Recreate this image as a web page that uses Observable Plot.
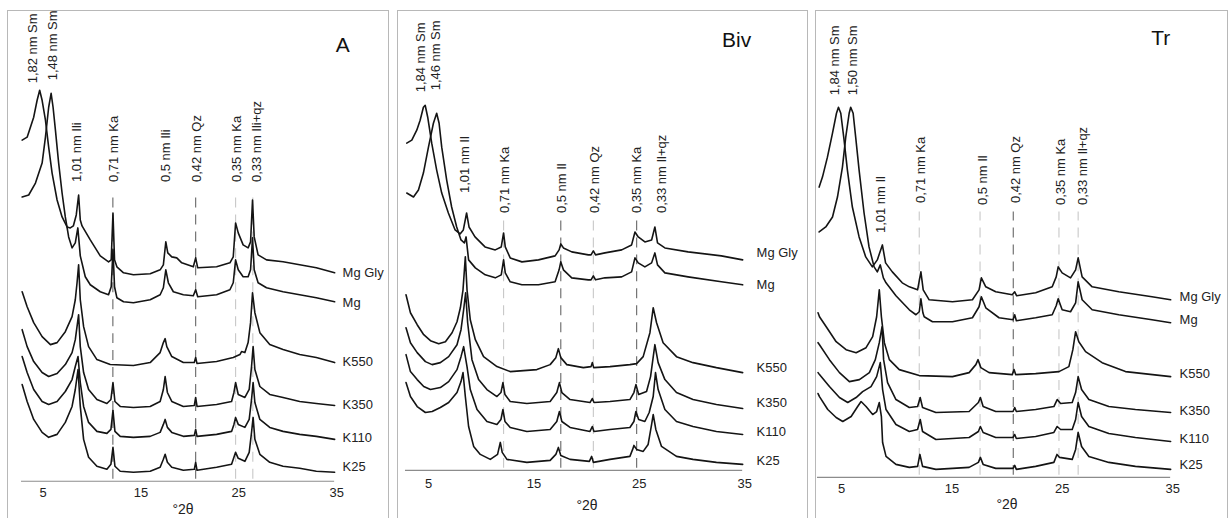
<!DOCTYPE html>
<html><head><meta charset="utf-8">
<script src="https://cdn.jsdelivr.net/npm/d3@7"></script>
<script src="https://cdn.jsdelivr.net/npm/@observablehq/plot@0.6"></script>
<style>
html,body{margin:0;padding:0;background:#fff;width:1229px;height:518px;overflow:hidden;}
.panel{position:absolute;top:10px;height:520px;border:1px solid #b8b8b8;border-bottom:none;box-sizing:border-box;}
.panel svg{position:absolute;left:-1px;top:-1px;}
</style></head><body>
<div id="pA" class="panel" style="left:7px;width:382px"></div>
<div id="pB" class="panel" style="left:397px;width:411px"></div>
<div id="pT" class="panel" style="left:815px;width:413px"></div>
<script>
// ---------- shared ----------
const traceNames = ["Mg Gly", "Mg", "K550", "K350", "K110", "K25"];
const xTicks = [5, 15, 25, 35];
const peakTextA = ["1,82 nm Sm", "1,48 nm Sm", "1,01 nm Ili", "0,71 nm Ka", "0,5 nm Ili", "0,42 nm Qz", "0,35 nm Ka", "0,33 nm Ili+qz"];
const peakTextB = ["1,84 nm Sm", "1,46 nm Sm", "1,01 nm Il", "0,71 nm Ka", "0,5 nm Il", "0,42 nm Qz", "0,35 nm Ka", "0,33 nm Il+qz"];
const peakTextT = ["1,84 nm Sm", "1,50 nm Sm", "1,01 nm Il", "0,71 nm Ka", "0,5 nm Il", "0,42 nm Qz", "0,35 nm Ka", "0,33 nm Il+qz"];

// ---------- Panel A (°2θ, intensity a.u. incl. stacking offset) ----------
const A_MgGly = [[3.07,342],[3.58,345],[4.25,365],[4.6,382],[4.86,392],[5.11,382],[5.45,362],[5.78,335],[6.13,309],[6.64,282],[7.15,265],[7.66,255],[7.99,254],[8.3,256],[8.6,267],[8.84,287],[9.01,262],[9.19,256],[10.03,242],[11.05,226],[11.9,220],[12.17,222],[12.35,269],[12.51,222],[12.75,215],[13.43,209],[14.44,207],[16.15,208],[17.17,212],[17.5,217],[17.75,240],[17.95,229],[18.36,225],[18.87,224],[19.38,219],[20.56,215],[20.8,224],[21.01,214],[22.94,215],[24.3,219],[24.64,225],[24.88,259],[25.15,249],[25.65,237],[26.16,234],[26.41,240],[26.61,282],[26.78,245],[27.18,227],[28.04,222],[29.73,220],[31.43,217],[33.13,214],[35,209]];
const A_Mg = [[3.07,285],[3.74,287],[4.43,299],[5.11,319],[5.45,345],[5.78,375],[6.03,389],[6.23,375],[6.47,352],[6.8,319],[7.15,289],[7.48,265],[7.82,245],[8.17,234],[8.5,239],[8.76,254],[9.01,226],[9.52,205],[10.03,197],[11.05,190],[11.9,187],[12.17,195],[12.35,232],[12.51,195],[12.75,184],[13.43,180],[14.44,179],[16.15,182],[17.17,187],[17.5,194],[17.75,212],[18.01,199],[18.52,190],[19.54,187],[20.56,186],[20.8,192],[21.01,185],[22.94,187],[24.3,192],[24.64,199],[24.88,222],[25.15,212],[25.65,205],[26.16,205],[26.41,212],[26.61,244],[26.78,212],[27.18,199],[28.04,194],[29.73,190],[31.43,187],[33.13,184],[35,180]];
const A_K550 = [[3.07,190],[3.58,175],[4.25,159],[5.11,145],[5.96,137],[6.64,139],[7.48,150],[8.17,165],[8.5,182],[8.68,199],[8.84,217],[9.01,182],[9.35,155],[9.86,135],[10.71,122],[12.07,117],[14.44,116],[16.15,119],[17.17,129],[17.5,139],[17.68,143],[17.85,135],[18.36,125],[19.54,119],[20.66,119],[20.8,124],[20.94,118],[22.94,120],[24.64,124],[25.32,127],[25.49,130],[25.83,129],[26.16,139],[26.41,159],[26.61,189],[26.85,169],[27.36,149],[28.37,137],[29.73,132],[31.43,127],[33.13,124],[35,119]];
const A_K350 = [[3.07,152],[3.58,135],[4.25,120],[5.11,109],[5.78,105],[6.64,108],[7.48,117],[8.17,129],[8.5,142],[8.84,167],[9.01,135],[9.35,109],[9.86,92],[10.71,82],[11.73,78],[12.14,82],[12.35,99],[12.55,80],[13.09,75],[14.44,74],[16.15,75],[17.17,80],[17.5,92],[17.68,105],[17.91,89],[18.36,80],[19.54,75],[20.66,76],[20.8,84],[20.94,75],[22.94,77],[24.47,80],[24.71,89],[24.88,99],[25.15,87],[25.83,84],[26.27,92],[26.51,115],[26.67,135],[26.85,112],[27.36,95],[28.37,87],[29.73,84],[31.43,80],[33.13,78],[35,76]];
const A_K110 = [[3.07,125],[3.58,109],[4.25,92],[5.11,80],[5.78,77],[6.64,80],[7.48,90],[8.17,102],[8.5,115],[8.78,125],[9.01,99],[9.35,75],[9.86,59],[10.71,50],[11.73,48],[12.14,52],[12.35,71],[12.55,50],[13.09,45],[14.44,44],[16.15,45],[17.17,49],[17.5,57],[17.68,62],[17.91,54],[18.36,49],[19.54,45],[20.66,46],[20.8,52],[20.94,45],[22.94,47],[24.47,50],[24.71,57],[24.88,64],[25.15,57],[25.83,54],[26.27,62],[26.51,82],[26.67,99],[26.85,79],[27.36,62],[28.37,54],[29.73,50],[31.43,47],[33.13,45],[35,42]];
const A_K25 = [[3.07,97],[3.58,80],[4.25,62],[5.11,49],[5.78,44],[6.64,47],[7.48,59],[8.17,75],[8.5,92],[8.78,112],[9.01,75],[9.35,42],[9.86,24],[10.71,15],[11.73,12],[12.14,17],[12.35,34],[12.55,15],[13.09,10],[14.44,9],[16.15,10],[17.17,14],[17.5,22],[17.68,27],[17.91,19],[18.36,14],[19.54,11],[20.66,12],[20.8,19],[20.94,11],[22.94,14],[24.47,17],[24.71,24],[24.88,29],[25.15,23],[25.83,20],[26.27,29],[26.51,49],[26.67,64],[26.85,42],[27.36,27],[28.37,19],[29.73,15],[31.43,13],[33.13,10],[35,9]];
const A_traceLabelY = [209, 179, 120, 77, 44, 14];
const A_peakLabelX = [4.19, 6.23, 8.68, 12.41, 17.78, 20.9, 24.98, 27.02];
const A_peakLabelBase = [399, 402, 300, 300, 300, 300, 300, 300];
const A_guideX = [12.34, 20.8, 24.88, 26.64];
const A_guideTone = ["dark", "dark", "light", "light"];
const A_guideTop = 285;

// ---------- Panel Biv ----------
const B_MgGly = [[3.12,328],[3.6,331],[4.07,341],[4.39,351],[4.7,364],[4.87,366],[5.11,354],[5.49,328],[5.96,301],[6.44,278],[7.07,258],[7.71,241],[8.18,237],[8.49,241],[8.8,258],[9.03,244],[9.6,234],[10.55,224],[11.52,221],[12.09,224],[12.31,238],[12.47,224],[12.94,213],[14.05,209],[15.62,211],[17.2,215],[17.58,221],[17.74,227],[17.99,223],[18.78,219],[20.35,216],[20.61,216],[20.83,220],[21.04,216],[21.93,218],[23.52,221],[24.46,226],[24.78,239],[25.09,234],[25.72,229],[26.36,231],[26.67,244],[26.92,228],[27.62,223],[29.82,219],[32.98,215],[35,211]];
const B_Mg = [[3.12,278],[3.76,274],[4.23,281],[4.7,298],[5.18,324],[5.65,348],[5.96,358],[6.19,348],[6.44,324],[6.91,291],[7.38,264],[7.86,244],[8.27,231],[8.59,228],[8.75,234],[8.99,211],[9.63,203],[10.57,196],[11.52,193],[12.09,196],[12.31,211],[12.47,198],[12.94,189],[14.05,186],[15.62,186],[17.2,189],[17.58,201],[17.74,209],[17.99,201],[18.78,193],[20.35,191],[20.61,191],[20.83,195],[21.04,191],[21.93,193],[23.52,194],[24.46,199],[24.78,213],[25.09,208],[25.72,204],[26.36,208],[26.67,218],[26.92,206],[27.62,198],[29.82,194],[32.98,189],[35,186]];
const B_K550 = [[3.05,176],[3.47,158],[4.11,146],[4.73,136],[5.37,130],[6.15,127],[6.79,129],[7.42,138],[7.89,149],[8.21,163],[8.46,181],[8.68,214],[8.84,181],[9.15,151],[9.63,131],[10.41,114],[11.68,104],[12.94,99],[15.47,101],[16.73,106],[17.27,113],[17.51,122],[17.74,113],[18.31,106],[19.88,103],[20.61,104],[20.73,108],[20.86,103],[22.41,104],[24.3,106],[24.94,107],[25.56,114],[26.2,138],[26.51,163],[26.83,148],[27.45,128],[28.72,114],[30.29,108],[32.51,103],[35,98]];
const B_K350 = [[3.05,143],[3.47,128],[4.11,118],[4.89,109],[5.53,106],[6.31,108],[7.1,114],[7.89,126],[8.27,141],[8.52,161],[8.71,178],[8.9,148],[9.31,111],[9.94,91],[10.73,81],[11.68,74],[12.06,78],[12.25,88],[12.44,76],[12.94,69],[14.52,67],[16.73,69],[17.36,78],[17.61,88],[17.84,78],[18.62,71],[20.51,68],[20.73,72],[20.89,68],[22.41,69],[24.3,71],[24.68,78],[24.87,86],[25.13,76],[25.88,79],[26.26,94],[26.67,126],[26.98,108],[27.62,91],[28.72,78],[30.29,71],[32.51,66],[35,62]];
const B_K110 = [[3.05,116],[3.47,99],[4.11,91],[4.73,84],[5.37,81],[6.31,83],[7.1,89],[7.89,101],[8.27,114],[8.52,124],[8.84,104],[9.15,81],[9.79,61],[10.73,49],[11.68,46],[12.06,51],[12.25,61],[12.44,49],[12.94,43],[14.52,39],[16.73,41],[17.36,49],[17.61,59],[17.84,49],[18.62,43],[20.51,39],[20.73,44],[20.89,39],[22.41,41],[24.3,43],[24.68,49],[24.87,59],[25.13,51],[25.72,49],[26.13,58],[26.51,74],[26.73,98],[26.98,81],[27.62,61],[28.72,49],[30.29,44],[32.51,39],[35,36]];
const B_K25 = [[3.05,88],[3.47,74],[4.11,64],[4.89,58],[5.53,59],[6.31,63],[7.1,68],[7.89,78],[8.27,89],[8.46,98],[8.68,74],[8.99,44],[9.47,24],[10.1,16],[11.05,11],[11.74,16],[12.0,28],[12.18,18],[12.63,11],[14.52,8],[16.73,10],[17.27,16],[17.51,23],[17.74,15],[18.62,11],[20.45,9],[20.67,14],[20.83,8],[22.41,11],[24.3,14],[24.56,21],[24.68,25],[24.94,21],[25.56,19],[26.03,26],[26.36,46],[26.51,56],[26.76,41],[27.3,24],[28.72,14],[30.29,11],[32.51,8],[35,6]];
const B_traceLabelY = [218, 186, 103, 68, 39, 10];
const B_peakLabelX = [4.42, 5.84, 8.68, 12.47, 17.84, 20.99, 24.94, 27.3];
const B_peakLabelBase = [379, 381, 278, 258, 258, 258, 258, 258];
const B_guideX = [12.31, 17.74, 20.83, 24.94];
const B_guideTone = ["light", "dark", "light", "dark"];
const B_guideTop = 253;

// ---------- Panel Tr ----------
const T_MgGly = [[3.15,291],[3.45,301],[3.9,321],[4.36,345],[4.72,365],[4.9,371],[5.11,365],[5.41,338],[5.71,308],[6.16,271],[6.77,241],[7.37,221],[7.97,211],[8.42,218],[8.88,233],[9.17,215],[9.78,206],[10.68,195],[11.32,191],[12.07,188],[12.37,206],[12.58,188],[13.12,178],[15.23,176],[17.04,178],[17.64,188],[17.85,200],[18.25,191],[19.15,186],[20.65,183],[20.87,186],[21.05,182],[22.77,185],[24.27,191],[24.63,201],[24.81,211],[25.17,205],[25.93,200],[26.39,208],[26.62,220],[26.98,201],[27.89,191],[30.3,186],[33.31,181],[35,178]];
const T_Mg = [[3.15,246],[3.75,251],[4.36,261],[4.81,281],[5.26,311],[5.56,341],[5.87,365],[6.01,371],[6.23,365],[6.46,341],[6.77,308],[7.22,265],[7.67,231],[8.13,211],[8.42,206],[8.69,213],[8.97,200],[9.21,195],[10.11,182],[11.32,168],[11.92,163],[12.22,166],[12.37,179],[12.55,165],[12.67,161],[13.42,156],[15.23,156],[17.04,160],[17.64,171],[17.85,181],[18.25,170],[19.45,160],[20.72,158],[20.87,163],[21.02,157],[22.77,160],[24.27,163],[24.63,172],[24.81,179],[25.17,168],[25.93,166],[26.39,175],[26.62,196],[26.98,178],[27.89,168],[30.3,163],[33.31,158],[35,155]];
const T_K550 = [[3.05,165],[3.18,161],[3.79,151],[4.69,136],[5.59,128],[6.5,125],[7.4,130],[8.0,141],[8.36,161],[8.6,188],[8.79,161],[9.06,135],[9.51,118],[10.41,108],[12.22,102],[15.23,101],[16.74,105],[17.35,113],[17.55,118],[17.8,110],[18.55,105],[20.65,103],[20.81,108],[20.96,103],[22.77,104],[24.88,106],[25.78,111],[26.14,128],[26.39,146],[26.68,136],[27.29,126],[28.79,115],[30.91,106],[35,101]];
const T_K350 = [[3.05,135],[3.18,133],[4.08,118],[4.99,105],[5.89,96],[6.8,98],[7.7,105],[8.24,118],[8.6,135],[8.85,151],[8.99,118],[9.35,95],[10.11,78],[11.32,70],[12.07,71],[12.31,80],[12.52,70],[13.73,65],[16.74,66],[17.58,75],[17.76,80],[18.01,71],[19.15,66],[20.72,66],[20.87,70],[21.02,66],[22.77,68],[24.42,71],[24.72,78],[25.03,74],[26.08,75],[26.39,85],[26.62,101],[26.93,88],[27.59,78],[29.4,71],[31.81,68],[35,65]];
const T_K110 = [[3.05,105],[3.18,103],[4.08,91],[4.99,80],[5.74,75],[6.5,80],[7.09,86],[7.85,91],[8.36,101],[8.69,115],[8.9,88],[9.21,68],[10.11,53],[11.32,46],[12.07,48],[12.31,58],[12.52,46],[13.73,38],[16.74,40],[17.58,46],[17.76,51],[18.01,45],[19.15,40],[20.72,40],[20.87,43],[21.02,39],[22.77,41],[24.42,45],[24.72,51],[25.03,48],[26.08,48],[26.39,58],[26.62,75],[26.93,61],[27.59,51],[29.4,44],[31.81,40],[35,36]];
const T_K25 = [[3.05,84],[3.18,81],[3.93,68],[4.69,60],[5.29,56],[6.05,61],[6.64,71],[6.95,76],[7.4,71],[8.0,63],[8.36,66],[8.6,75],[8.79,61],[8.9,35],[9.21,21],[10.11,13],[11.32,10],[12.07,11],[12.28,23],[12.52,11],[13.73,8],[16.74,10],[17.58,15],[17.76,20],[18.01,13],[19.15,9],[20.72,9],[20.87,12],[21.02,8],[22.77,11],[24.42,15],[24.7,23],[24.94,20],[26.08,18],[26.39,28],[26.62,45],[26.93,31],[27.59,21],[29.4,15],[31.81,11],[35,8]];
const T_traceLabelY = [181, 158, 104, 67, 39, 13];
const T_peakLabelX = [4.54, 6.19, 8.76, 12.37, 17.94, 20.96, 25.03, 27.0];
const T_peakLabelBase = [383, 383, 245, 275, 273, 275, 273, 273];
const T_guideX = [12.22, 17.73, 20.74, 24.88, 26.62];
const T_guideTone = ["light", "light", "dark", "light", "light"];
const T_guideTop = 266;

// ---------- drawing ----------
const FONT = "'Liberation Sans', Arial, Helvetica, sans-serif";
function drawPanel(el, o) {
  const rows = o.traces.flatMap((pts, i) => pts.map(([x, y]) => ({trace: traceNames[i], x, y})));
  const guides = o.guideX.map((x, i) => ({x, tone: o.guideTone[i]}));
  const peaks = o.peakText.map((t, i) => ({t, x: o.peakX[i], y: o.peakBase[i]}));
  const labels = traceNames.map((t, i) => ({t, y: o.labelY[i]}));
  const chart = Plot.plot({
    width: o.width, height: 508,
    marginLeft: o.ml, marginRight: o.mr, marginTop: 0, marginBottom: o.mb,
    x: {domain: [3, 35]},
    y: {domain: [0, o.ymax], axis: null},
    style: {fontFamily: FONT, fontSize: "13px", color: "#222", background: "transparent", overflow: "visible"},
    marks: [
      Plot.ruleX(guides, {x: "x", y1: 2, y2: o.guideTop, stroke: d => d.tone === "dark" ? "#666" : "#c8c8c8", strokeWidth: 1.1, strokeDasharray: "10,7"}),
      Plot.ruleY([0], {stroke: "#8c8c8c", strokeWidth: 1.2}),
      Plot.line(rows, {x: "x", y: "y", z: "trace", stroke: "#141414", strokeWidth: 1.6, strokeLinejoin: "round"}),
      Plot.text(labels, {x: 35, y: "y", text: "t", textAnchor: "start", dx: o.labelDx, fontSize: 13, fill: "#222"}),
      Plot.text(peaks, {x: "x", y: "y", text: "t", rotate: -90, textAnchor: "start", fontSize: 13, fill: "#222"}),
      Plot.text([o.letter], {frameAnchor: "top-right", textAnchor: "middle", lineAnchor: "middle", dx: o.letterDx, dy: o.letterDy, fontSize: 21, fill: "#111"}),
      Plot.text(["°2θ"], {frameAnchor: "bottom", lineAnchor: "middle", dx: o.titleDx, dy: o.titleDy, fontSize: 14, fill: "#222"}),
      Plot.axisX({ticks: xTicks, tickSize: 0, tickPadding: o.tp, dx: 2, fontSize: 13, label: null, fill: "#222"})
    ]
  });
  document.getElementById(el).append(chart);
}

drawPanel("pA", {
  traces: [A_MgGly, A_Mg, A_K550, A_K350, A_K110, A_K25],
  width: 381, ml: 14, mr: 53, mb: 36, ymax: 472,
  guideX: A_guideX, guideTone: A_guideTone, guideTop: A_guideTop,
  peakText: peakTextA, peakX: A_peakLabelX, peakBase: A_peakLabelBase,
  labelY: A_traceLabelY, labelDx: 8,
  letter: "A", letterDx: 8, letterDy: 35,
  titleDx: 5, titleDy: 28, tp: 7
});
drawPanel("pB", {
  traces: [B_MgGly, B_Mg, B_K550, B_K350, B_K110, B_K25],
  width: 410, ml: 8, mr: 64, mb: 47, ymax: 461,
  guideX: B_guideX, guideTone: B_guideTone, guideTop: B_guideTop,
  peakText: peakTextB, peakX: B_peakLabelX, peakBase: B_peakLabelBase,
  labelY: B_traceLabelY, labelDx: 14,
  letter: "Biv", letterDx: -6, letterDy: 30,
  titleDx: 13, titleDy: 35, tp: 8
});
drawPanel("pT", {
  traces: [T_MgGly, T_Mg, T_K550, T_K350, T_K110, T_K25],
  width: 412, ml: 2, mr: 56, mb: 40, ymax: 468,
  guideX: T_guideX, guideTone: T_guideTone, guideTop: T_guideTop,
  peakText: peakTextT, peakX: T_peakLabelX, peakBase: T_peakLabelBase,
  labelY: T_traceLabelY, labelDx: 9,
  letter: "Tr", letterDx: -10, letterDy: 28,
  titleDx: 13, titleDy: 27, tp: 6
});
</script>
</body></html>
